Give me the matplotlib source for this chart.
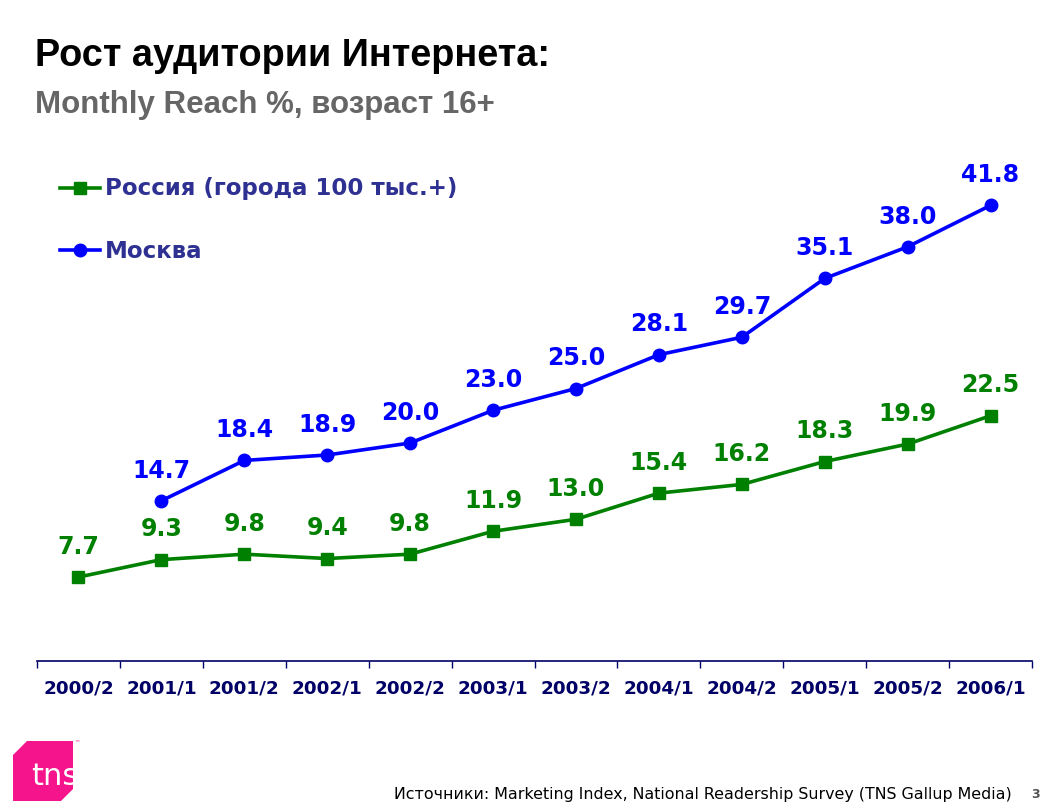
import matplotlib
matplotlib.use("Agg")
import matplotlib.pyplot as plt
from matplotlib.patches import Polygon
from matplotlib import font_manager as fm

categories = ["2000/2", "2001/1", "2001/2", "2002/1", "2002/2", "2003/1",
              "2003/2", "2004/1", "2004/2", "2005/1", "2005/2", "2006/1"]
russia = [7.7, 9.3, 9.8, 9.4, 9.8, 11.9, 13.0, 15.4, 16.2, 18.3, 19.9, 22.5]
moscow = [None, 14.7, 18.4, 18.9, 20.0, 23.0, 25.0, 28.1, 29.7, 35.1, 38.0, 41.8]
russia_label = "Россия (города 100 тыс.+)"
moscow_label = "Москва"

GREEN = "#008000"
BLUE = "#0000FF"
NAVY = "#000066"
LEGEND_TXT = "#2E3192"


def find_bold_sans():
    for f in fm.fontManager.ttflist:
        fn = f.fname.lower()
        if f.name == "Liberation Sans" and "narrow" not in fn and "bold" in fn and "italic" not in fn:
            return fm.FontProperties(fname=f.fname)
    return fm.FontProperties(family="Roboto", weight="bold")


title_fp = find_bold_sans()

W, H = 1062, 812
fig = plt.figure(figsize=(W / 100, H / 100), dpi=100)
fig.patch.set_facecolor("white")

ax_left, ax_right = 37, 1032
y0_px, ytop_px = 662, 171.5
ax = fig.add_axes([ax_left / W, (H - y0_px) / H, (ax_right - ax_left) / W, (y0_px - ytop_px) / H])
ax.set_xlim(-0.5, len(categories) - 0.5)
ax.set_ylim(0, 45)
for s in ["top", "right", "left"]:
    ax.spines[s].set_visible(False)
ax.spines["bottom"].set_color(NAVY)
ax.spines["bottom"].set_linewidth(1.2)
ax.set_yticks([])

x = list(range(len(categories)))
ax.set_xticks([i - 0.5 for i in range(len(categories) + 1)])
ax.set_xticklabels([])
ax.tick_params(axis="x", which="major", direction="out", length=5, width=1, color=NAVY)
ax.set_xticks(x, minor=True)
ax.set_xticklabels(categories, minor=True, fontsize=13.2, fontweight="bold",
                   color=NAVY, family="DejaVu Sans")
ax.tick_params(axis="x", which="minor", length=0, pad=12.5)

mx = [i for i, v in zip(x, moscow) if v is not None]
my = [v for v in moscow if v is not None]

ax.plot(x, russia, color=GREEN, lw=2.6, marker="s", markersize=9, clip_on=False, zorder=3)
ax.plot(mx, my, color=BLUE, lw=2.6, marker="o", markersize=9, clip_on=False, zorder=3)

for xi, v in zip(x, russia):
    ax.annotate(f"{v:.1f}", (xi, v), xytext=(0, 22.5), textcoords="offset points",
                ha="center", va="center", fontsize=17, fontweight="bold",
                color=GREEN, family="DejaVu Sans")
for xi, v in zip(mx, my):
    ax.annotate(f"{v:.1f}", (xi, v), xytext=(0, 22.5), textcoords="offset points",
                ha="center", va="center", fontsize=17, fontweight="bold",
                color=BLUE, family="DejaVu Sans")


def legend_entry(ypx, color, marker, label):
    yf = (H - ypx) / H
    fig.add_artist(plt.Line2D([60 / W, 100 / W], [yf, yf], color=color, lw=2.6,
                              transform=fig.transFigure))
    fig.add_artist(plt.Line2D([80 / W], [yf], color=color, marker=marker, markersize=9,
                              transform=fig.transFigure))
    fig.text(105 / W, yf, label, fontsize=16.5, fontweight="bold", color=LEGEND_TXT,
             va="center", ha="left", family="DejaVu Sans")


legend_entry(189, GREEN, "s", russia_label)
legend_entry(251, BLUE, "o", moscow_label)

tfp = title_fp.copy()
tfp.set_size(27.3)
fig.text(35 / W, (H - 66) / H, "Рост аудитории Интернета:", fontproperties=tfp,
         color="black", va="baseline", ha="left")
sfp = title_fp.copy()
sfp.set_size(22.5)
fig.text(35 / W, (H - 113) / H, "Monthly Reach %, возраст 16+", fontproperties=sfp,
         color="#666666", va="baseline", ha="left")

fig.text(1012 / W, (H - 795) / H,
         "Источники: Marketing Index, National Readership Survey (TNS Gallup Media)",
         fontsize=11.4, color="black", va="center", ha="right", family="DejaVu Sans")
fig.text(1036 / W, (H - 795) / H, "3", fontsize=9, fontweight="bold", color="#555555",
         va="center", ha="center", family="DejaVu Sans")


def fxy(px, py):
    return (px / W, (H - py) / H)


pts = [fxy(27, 742), fxy(73, 742), fxy(73, 790), fxy(61, 802), fxy(13, 802), fxy(13, 756)]
logo = Polygon(pts, closed=True, facecolor="#F5148C", edgecolor="none",
               transform=fig.transFigure)
fig.add_artist(logo)
t = fig.text(31 / W, (H - 777) / H, "tns", fontsize=22, color="white", va="center",
             ha="left", family="DejaVu Sans")
t.set_clip_path(logo)
fig.text(74 / W, (H - 744) / H, "™", fontsize=4, color="#F5148C", va="center", ha="left")

fig.savefig("out.png", dpi=100)
